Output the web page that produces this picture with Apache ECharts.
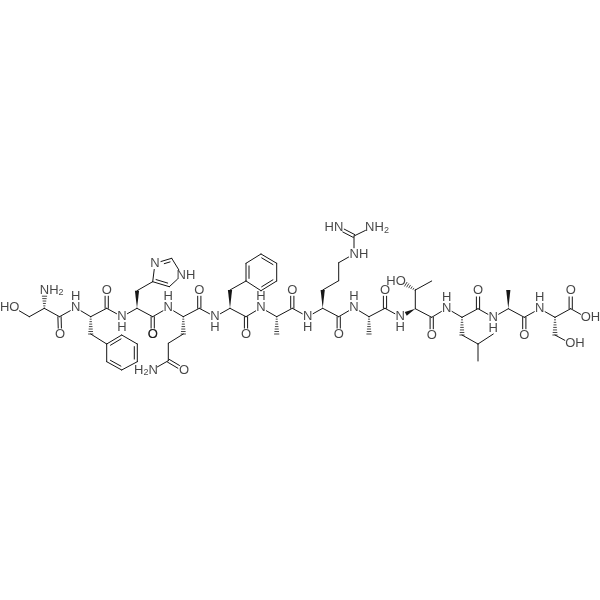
<!DOCTYPE html>
<html><head><meta charset="utf-8">
<style>html,body{margin:0;background:#fff}#c{width:600px;height:600px}</style>
<script src="https://cdn.jsdelivr.net/npm/echarts@6/dist/echarts.min.js"></script>
</head><body><div id="c"></div>
<script>
// Atom skeleton
const atomIds=['O1','C1','A1','N1','C2','O2','N2','A2','B2','Ra','Rb','Rc','Rd','Re','Rf','C3','O3','N3','A3','B3','I4','N_i3','I2','N_i1','I5','C4','O4','N4','A4','B4','G4','D4','OE','NE','C5','O5','N5','A5','B5','Sa','Sb','Sc','Sd','Se','Sf','C6','O6','N6','A6','B6','C7','O7','N7','A7','B7','G7','D7','NEa','CZ','NH1','NH2','C8','O8','N8','A8','B8','C9','O9','N9','A9','B9','G9','OG9','C10','O10','N10','A10','B10','G10','D10a','D10b','C11','O11','N11','A11','B11','C12','O12','N12','A12','B12','OG12','C13','O13','OT'];
const atomX=[14,29.3,44.3,44.6,59.5,60,75.7,90.7,90.7,106.7,121.7,137.3,137.3,121.7,106.7,106.7,106.7,122,137,137,152.7,155,171.7,182,169.3,152.7,152.7,168.3,183.3,183.3,168.3,168.3,184,152,199.3,199.3,215,230,230,246,246,261,276.7,276.7,261,246,246,261,276.7,276.7,292.3,292.3,307.7,322.7,322.7,338.7,338.7,354,354,338,371,338.7,338.7,354,369,369,385,385,400.3,415.3,415.3,431.7,400.5,431.7,431.7,446.7,462,462,478,493.3,478,478,478,493.3,508.3,508.3,524.3,524.3,539.7,555,555,570.3,570.7,570.7,586];
const atomY=[307.7,316.7,308.3,290,316.7,334.3,307.7,316.7,334,344,335,344,361.7,370,361.7,308.3,290,316.7,308.3,290.7,281.7,263.3,258.3,275,286.7,316.7,334.3,307.7,316.7,334,343.3,360.7,370,370,308.3,290,316.7,308.3,290,281,263.3,254,263.3,281,290.7,316.7,334.3,307.7,316.7,334,308.3,290,316.7,308.3,290,280.7,262.7,254,236,227.7,227.7,316.7,334.3,307.7,316.7,334,308.3,290,316.7,308.7,290,281,281,317.3,335,308.3,317.3,335,344,334,361,308.7,290.7,317.3,308.7,290,317.3,335,308.7,317.3,335,343.3,308.7,290.7,317.3];
// s single, d double (centred), l / r double with inner line on that side, w wedge, h hash
const bonds=[['O1','C1','s'],['C1','A1','s'],['A1','N1','h'],['A1','C2','s'],['C2','O2','d'],['C2','N2','s'],['N2','A2','s'],['A2','B2','h'],['B2','Ra','s'],
['Ra','Rb','r'],['Rb','Rc','s'],['Rc','Rd','r'],['Rd','Re','s'],['Re','Rf','r'],['Rf','Ra','s'],
['A2','C3','s'],['C3','O3','d'],['C3','N3','s'],['N3','A3','s'],['A3','B3','w'],['B3','I4','s'],
['I4','N_i3','s'],['N_i3','I2','r'],['I2','N_i1','s'],['N_i1','I5','s'],['I5','I4','r'],
['A3','C4','s'],['C4','O4','d'],['C4','N4','s'],['N4','A4','s'],['A4','B4','h'],['B4','G4','s'],['G4','D4','s'],['D4','OE','d'],['D4','NE','s'],
['A4','C5','s'],['C5','O5','d'],['C5','N5','s'],['N5','A5','s'],['A5','B5','w'],['B5','Sa','s'],
['Sa','Sb','r'],['Sb','Sc','s'],['Sc','Sd','r'],['Sd','Se','s'],['Se','Sf','r'],['Sf','Sa','s'],
['A5','C6','s'],['C6','O6','d'],['C6','N6','s'],['N6','A6','s'],['A6','B6','h'],['A6','C7','s'],['C7','O7','d'],['C7','N7','s'],['N7','A7','s'],
['A7','B7','w'],['B7','G7','s'],['G7','D7','s'],['D7','NEa','s'],['NEa','CZ','s'],['CZ','NH1','d'],['CZ','NH2','s'],
['A7','C8','s'],['C8','O8','d'],['C8','N8','s'],['N8','A8','s'],['A8','B8','h'],['A8','C9','s'],['C9','O9','d'],['C9','N9','s'],['A9','N9','w'],
['A9','B9','s'],['B9','G9','s'],['B9','OG9','h'],['A9','C10','s'],['C10','O10','d'],['C10','N10','s'],['N10','A10','s'],['A10','B10','h'],['B10','G10','s'],['G10','D10a','s'],['G10','D10b','s'],
['A10','C11','s'],['C11','O11','d'],['C11','N11','s'],['N11','A11','s'],['A11','B11','w'],['A11','C12','s'],['C12','O12','d'],['C12','N12','s'],['N12','A12','s'],['A12','B12','h'],['B12','OG12','s'],
['A12','C13','s'],['C13','O13','d'],['C13','OT','s']];
// Atom labels
const labelText=['HO','NH2','O','N','H','O','N','H','O','N','NH','O','N','H','H2N','O','O','N','H','O','N','H','O','N','H','HN','NH2','NH','O','N','H','O','N','H','HO','O','N','H','O','N','H','O','N','H','O','OH','OH'];
const labelX=[9.7,51.7,60,75.7,75.7,106.7,122,122,152.7,155,186,152.7,168.3,168.3,146,184,199.3,215,215,246,261,261,292.3,307.7,307.7,334,377,359,338.7,354,354,385,400.3,400.3,396,431.7,446.7,446.7,478,493.3,493.3,524.3,539.7,539.7,570.7,590.5,575];
const labelY=[307.7,290,334.3,307.7,296.7,290,316.7,327.3,334.3,263.3,275,334.3,307.7,296.7,370,370,290,316.7,327.3,334.3,307.7,296.7,290,316.7,327.3,227.7,227.7,254,334.3,307.7,296.7,290,316.7,327.3,281,335,308.3,297.3,290.7,317.3,328,335,308.7,297.3,290.7,317.3,343.3];

const ink='#161616', LW=1, GAP=6.2;
const idx=Object.fromEntries(atomIds.map((a,i)=>[a,i]));
const isHetero=id=>/^(N|O)/.test(id);
const kinds=['s','d','l','r','w','h'];
const bondData=bonds.map(([a,b,k])=>[atomX[idx[a]],atomY[idx[a]],atomX[idx[b]],atomY[idx[b]],kinds.indexOf(k),isHetero(a)?1:0,isHetero(b)?1:0]);
const labelData=labelText.map((t,i)=>[labelX[i],labelY[i],t]);

function renderBond(params,api){
  let p=api.coord([api.value(0),api.value(1)]), q=api.coord([api.value(2),api.value(3)]);
  const kind=kinds[api.value(4)];
  let dx=q[0]-p[0], dy=q[1]-p[1], len=Math.hypot(dx,dy); dx/=len; dy/=len;
  if(api.value(5)) p=[p[0]+dx*GAP,p[1]+dy*GAP];
  if(api.value(6)) q=[q[0]-dx*GAP,q[1]-dy*GAP];
  const nx=-dy, ny=dx, ch=[];
  const line=(a,b,w)=>({type:'line',shape:{x1:a[0],y1:a[1],x2:b[0],y2:b[1]},style:{stroke:ink,lineWidth:w||LW,lineCap:'round'}});
  const L=Math.hypot(q[0]-p[0],q[1]-p[1]);
  if(kind==='s') ch.push(line(p,q));
  else if(kind==='d'){
    const o=1.6;
    ch.push(line([p[0]+nx*o,p[1]+ny*o],[q[0]+nx*o,q[1]+ny*o]));
    ch.push(line([p[0]-nx*o,p[1]-ny*o],[q[0]-nx*o,q[1]-ny*o]));
  } else if(kind==='l'||kind==='r'){
    const s=kind==='r'?1:-1, o=3*s, t=2.6;
    ch.push(line(p,q));
    ch.push(line([p[0]+nx*o+dx*t,p[1]+ny*o+dy*t],[q[0]+nx*o-dx*t,q[1]+ny*o-dy*t]));
  } else if(kind==='w'){
    const h=2.1;
    ch.push({type:'polygon',shape:{points:[p,[q[0]+nx*h,q[1]+ny*h],[q[0]-nx*h,q[1]-ny*h]]},style:{fill:ink}});
  } else {
    const n=Math.max(4,Math.round(L/2.4));
    for(let i=0;i<=n;i++){
      const f=i/n, h=0.3+1.9*f, c=[p[0]+(q[0]-p[0])*f,p[1]+(q[1]-p[1])*f];
      ch.push(line([c[0]+nx*h,c[1]+ny*h],[c[0]-nx*h,c[1]-ny*h],0.8));
    }
  }
  return {type:'group',children:ch};
}

const chart=echarts.init(document.getElementById('c'),null,{renderer:'canvas'});
chart.setOption({
  animation:false,backgroundColor:'#fff',
  grid:{left:0,right:0,top:0,bottom:0},
  xAxis:{type:'value',min:0,max:600,show:false},
  yAxis:{type:'value',min:0,max:600,inverse:true,show:false},
  series:[
    {type:'custom',coordinateSystem:'cartesian2d',clip:false,silent:true,
     encode:{x:[0,2],y:[1,3]},renderItem:renderBond,data:bondData},
    {type:'scatter',coordinateSystem:'cartesian2d',symbol:'circle',symbolSize:0,silent:true,
     data:labelData,
     label:{show:true,position:'inside',align:'center',verticalAlign:'middle',
       fontFamily:'"Liberation Sans",Arial,sans-serif',fontSize:13,color:ink,
       formatter:p=>{const t=p.data[2];return /\d/.test(t)?t.replace(/[A-Z]+/g,m=>'{a|'+m+'}').replace(/\d/,d=>'{s|'+d+'}'):t;},
       rich:{a:{fontFamily:'"Liberation Sans",Arial,sans-serif',fontSize:13,color:ink},
             s:{fontFamily:'"Liberation Sans",Arial,sans-serif',fontSize:9,color:ink,verticalAlign:'bottom',padding:[5,0,0,0]}}}}
  ]
});
</script></body></html>
